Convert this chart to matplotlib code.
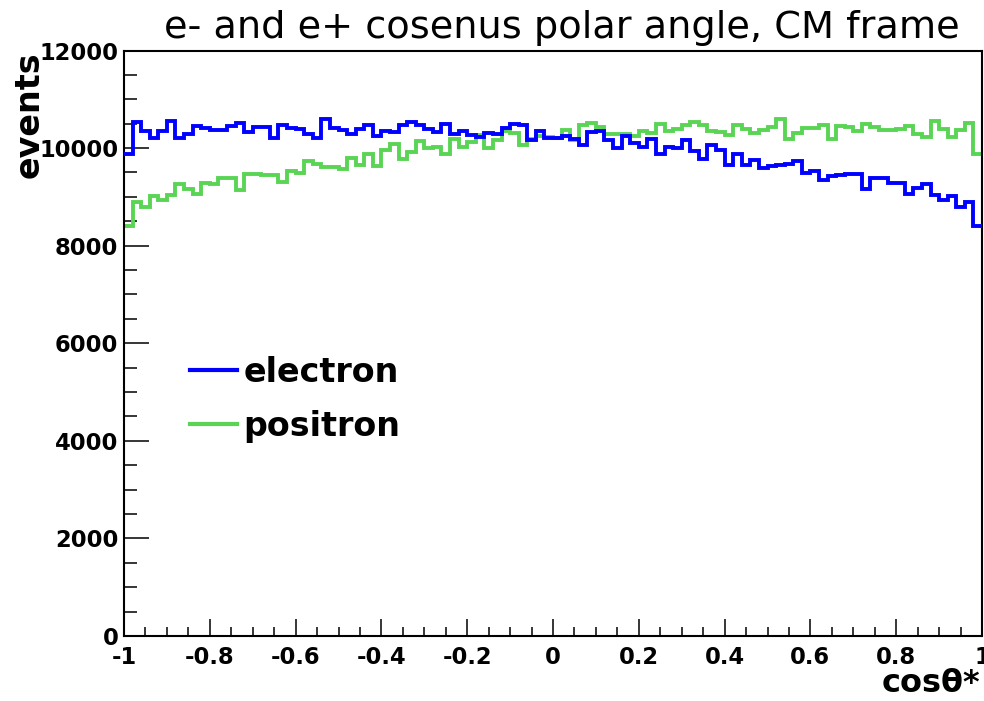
import numpy as np
import matplotlib
matplotlib.use('Agg')
from matplotlib import pyplot as plt
from matplotlib.lines import Line2D
from matplotlib.ticker import MultipleLocator

# cos(theta*) histograms, 100 bins from -1 to 1
X_MIN = -1.0
X_MAX = 1.0

electron = [9871, 10530, 10360, 10211, 10360, 10564, 10197, 10279, 10449, 10415,
            10367, 10367, 10449, 10517, 10333, 10435, 10435, 10197, 10483, 10415,
            10394, 10292, 10197, 10605, 10415, 10367, 10292, 10401, 10469, 10245,
            10347, 10333, 10469, 10537, 10483, 10401, 10333, 10503, 10292, 10360,
            10258, 10231, 10313, 10279, 10415, 10503, 10469, 10163, 10360, 10211,
            10211, 10245, 10190, 10054, 10326, 10347, 10163, 9993, 10245, 10109,
            10020, 10177, 9884, 10020, 10007, 10163, 9939, 9782, 10054, 9952,
            9653, 9871, 9653, 9755, 9585, 9633, 9653, 9680, 9735, 9490,
            9531, 9340, 9436, 9456, 9463, 9470, 9157, 9388, 9388, 9286,
            9286, 9055, 9177, 9272, 9048, 8932, 9027, 8790, 8885, 8409]

positron = [8409, 8885, 8783, 9021, 8932, 9041, 9272, 9157, 9055, 9293,
            9272, 9395, 9395, 9136, 9463, 9463, 9456, 9442, 9313, 9531,
            9483, 9735, 9680, 9619, 9619, 9578, 9803, 9653, 9871, 9633,
            9952, 10075, 9782, 9925, 10143, 10007, 10027, 9884, 10177, 10027,
            10122, 10265, 9993, 10163, 10340, 10313, 10054, 10190, 10245, 10225,
            10215, 10361, 10163, 10483, 10517, 10435, 10292, 10292, 10279, 10245,
            10347, 10313, 10503, 10347, 10394, 10483, 10544, 10483, 10360, 10333,
            10258, 10469, 10401, 10299, 10374, 10428, 10605, 10190, 10313, 10415,
            10415, 10483, 10190, 10449, 10435, 10347, 10503, 10435, 10367, 10367,
            10401, 10449, 10292, 10224, 10558, 10388, 10224, 10367, 10517, 9884]

x_ticks = [-1, -0.8, -0.6, -0.4, -0.2, 0, 0.2, 0.4, 0.6, 0.8, 1]
x_ticklabels = ['-1', '-0.8', '-0.6', '-0.4', '-0.2', '0', '0.2', '0.4', '0.6', '0.8', '1']
y_ticks = [0, 2000, 4000, 6000, 8000, 10000, 12000]

BLUE = '#0000ff'
GREEN = '#59d454'

W, H = 984, 701
fig = plt.figure(figsize=(W / 100, H / 100), dpi=100)
ax = fig.add_axes([124 / W, 1 - 636 / H, (982 - 124) / W, (636 - 50.5) / H])

edges = np.linspace(X_MIN, X_MAX, len(electron) + 1)
ax.stairs(positron, edges, baseline=None, color=GREEN, lw=2.8, zorder=2)
ax.stairs(electron, edges, baseline=None, color=BLUE, lw=2.8, zorder=3)

ax.set_xlim(X_MIN, X_MAX)
ax.set_ylim(0, 12000)

for s in ax.spines.values():
    s.set_linewidth(1.5)

ax.set_xticks(x_ticks)
ax.set_xticklabels(x_ticklabels)
ax.set_yticks(y_ticks)
ax.xaxis.set_minor_locator(MultipleLocator(0.05))
ax.yaxis.set_minor_locator(MultipleLocator(500))
ax.tick_params(axis='x', which='major', direction='in', length=12.5, width=1.1, pad=7,
               top=False, labelsize=16.3)
ax.tick_params(axis='x', which='minor', direction='in', length=6.5, width=1.1, top=False)
ax.tick_params(axis='y', which='major', direction='in', length=18, width=1.1, pad=4,
               right=False, labelsize=16.3)
ax.tick_params(axis='y', which='minor', direction='in', length=9.5, width=1.1, right=False)
for lab in ax.get_xticklabels() + ax.get_yticklabels():
    lab.set_fontweight('bold')

fig.text(562 / W, 1 - 28 / H, 'e- and e+ cosenus polar angle, CM frame',
         fontsize=27.5, ha='center', va='center')
fig.text(29 / W, 1 - 115 / H, 'events', fontsize=24, fontweight='bold',
         rotation=90, ha='center', va='center')
fig.text(980 / W, 1 - 699 / H, 'cos\u03b8*', fontsize=23, fontweight='bold',
         ha='right', va='bottom')

handles = [Line2D([], [], color=BLUE, lw=3), Line2D([], [], color=GREEN, lw=3)]
ax.legend(handles, ['electron', 'positron'], loc='upper left',
          bbox_to_anchor=(190 / W, 1 - 356 / H), bbox_transform=fig.transFigure,
          frameon=False, borderpad=0, borderaxespad=0, handlelength=1.41,
          handletextpad=0.2, labelspacing=0.63,
          prop={'size': 24, 'weight': 'bold'})

plt.savefig('out.png', dpi=100)
